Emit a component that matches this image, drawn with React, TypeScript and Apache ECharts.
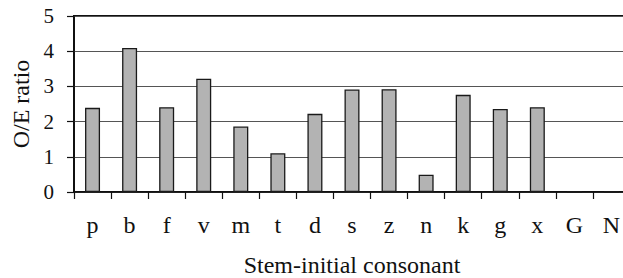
import React, { useEffect, useRef } from "react";
import * as echarts from "echarts";

const categories = ["p", "b", "f", "v", "m", "t", "d", "s", "z", "n", "k", "g", "x", "G", "N"];
const ratios = [2.39, 4.09, 2.41, 3.22, 1.86, 1.1, 2.22, 2.91, 2.92, 0.49, 2.76, 2.36, 2.41, 0, 0];
const yTicks = [0, 1, 2, 3, 4, 5];

const FONT = "Liberation Serif";

export default function App() {
  const ref = useRef<HTMLDivElement>(null);
  useEffect(() => {
    if (!ref.current) return;
    const chart = echarts.init(ref.current, undefined, { renderer: "svg" });
    chart.setOption({
      animation: false,
      backgroundColor: "#ffffff",
      textStyle: { fontFamily: FONT },
      grid: {
        left: 74,
        top: 16,
        right: -7,
        bottom: 86,
        containLabel: false,
        outerBoundsMode: "none",
        show: true,
        borderColor: "#111111",
        borderWidth: 2,
      },
      xAxis: {
        type: "category",
        data: categories,
        boundaryGap: true,
        name: "Stem-initial consonant",
        nameLocation: "middle",
        nameGap: 61,
        nameTextStyle: { fontFamily: FONT, fontSize: 24, color: "#111" },
        axisLine: { show: true, lineStyle: { color: "#111", width: 1.5 } },
        axisTick: { show: true, length: 7, lineStyle: { color: "#111", width: 1.2 } },
        axisLabel: { fontFamily: FONT, fontSize: 24, color: "#111", margin: 21, interval: 0 },
        splitLine: { show: false },
      },
      yAxis: {
        type: "value",
        min: yTicks[0],
        max: yTicks[yTicks.length - 1],
        interval: 1,
        name: "O/E ratio",
        nameLocation: "middle",
        nameGap: 41,
        nameTextStyle: { fontFamily: FONT, fontSize: 24, color: "#111" },
        axisLine: { show: true, lineStyle: { color: "#111", width: 1.5 } },
        axisTick: { show: true, length: 7, lineStyle: { color: "#111", width: 1.2 } },
        axisLabel: { fontFamily: FONT, fontSize: 21, color: "#111", margin: 20 },
        splitLine: { show: true, lineStyle: { color: "#555", width: 1 } },
      },
      series: [
        {
          type: "bar",
          data: ratios,
          barWidth: 15,
          itemStyle: { color: "#b3b3b3", borderColor: "#1a1a1a", borderWidth: 1.3 },
        },
      ],
    });
    return () => chart.dispose();
  }, []);
  return (
    <div
      ref={ref}
      style={{ position: "fixed", left: 0, top: 0, width: 623, height: 278, background: "#fff" }}
    />
  );
}
